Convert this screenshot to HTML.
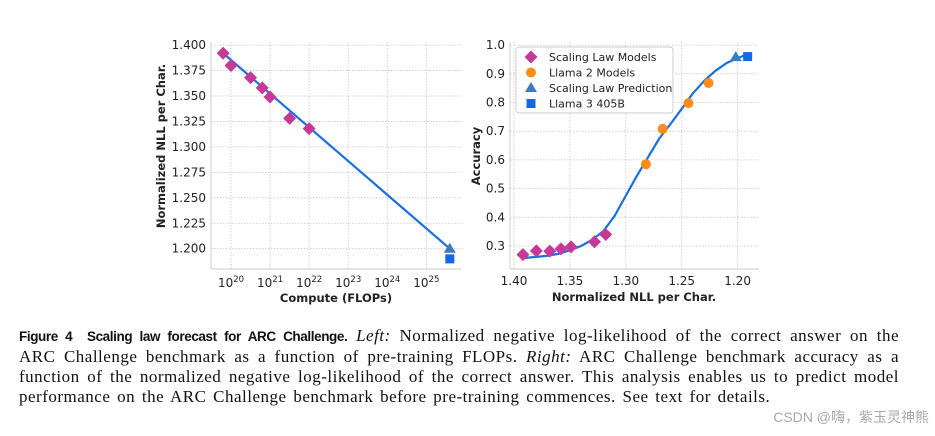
<!DOCTYPE html>
<html><head><meta charset="utf-8">
<style>
body{margin:0;background:#fff;width:935px;height:436px;overflow:hidden;position:relative}
svg text{font-family:"DejaVu Sans","Liberation Sans",sans-serif}
.cap{position:absolute;left:19px;width:880px;font-family:"Liberation Serif",serif;font-size:17px;line-height:20px;color:#111;white-space:nowrap}
.ln{display:block;text-align:justify;text-align-last:justify;letter-spacing:0.5px}
.last{text-align-last:left;word-spacing:2px}
.fig{font-family:"Liberation Sans",sans-serif;font-weight:bold;font-size:13.5px;letter-spacing:-0.4px}
.wm{position:absolute;right:6px;top:407px;font-family:"Liberation Sans","Noto Sans CJK SC",sans-serif;font-size:14px;color:#aaa}
</style></head><body>
<svg id="chart" width="935" height="320" style="position:absolute;left:0;top:0"></svg>
<div class="cap" style="top:326px">
<span class="ln"><span class="fig">Figure 4&nbsp; Scaling law forecast for ARC Challenge.</span> <i>Left:</i> Normalized negative log-likelihood of the correct answer on the</span>
<span class="ln">ARC Challenge benchmark as a function of pre-training FLOPs. <i>Right:</i> ARC Challenge benchmark accuracy as a</span>
<span class="ln">function of the normalized negative log-likelihood of the correct answer. This analysis enables us to predict model</span>
<span class="ln last">performance on the ARC Challenge benchmark before pre-training commences. See text for details.</span>
</div>
<div class="wm">CSDN @嗨，紫玉灵神熊</div>
<script>
// Left chart data
const leftLogFlops=[19.8,20,20.5,20.8,21,21.5,22];
const leftNLL=[1.392,1.380,1.368,1.358,1.349,1.328,1.318];
const fitLogFlops=[19.8,25.6];
const fitNLL=[1.392,1.200];
const predLogFlops=[25.6];const predNLL=[1.200];
const llama3LogFlops=[25.6];const llama3NLL=[1.190];
const leftYTicks=[1.200,1.225,1.250,1.275,1.300,1.325,1.350,1.375,1.400];
const leftXTicks=[20,21,22,23,24,25];
// Right chart data
const rightNLL=[1.392,1.380,1.368,1.358,1.349,1.328,1.318];
const rightAcc=[0.270,0.283,0.282,0.290,0.297,0.315,0.340];
const l2NLL=[1.282,1.267,1.244,1.226];
const l2Acc=[0.585,0.708,0.798,0.868];
const rpredNLL=[1.2016];const rpredAcc=[0.958];
const rl3NLL=[1.191];const rl3Acc=[0.960];
const curveNLL=[1.392,1.38,1.37,1.36,1.35,1.34,1.33,1.32,1.31,1.30,1.29,1.28,1.27,1.26,1.25,1.24,1.23,1.22,1.21,1.20,1.191];
const curveAcc=[0.258,0.262,0.266,0.273,0.285,0.300,0.322,0.352,0.405,0.475,0.545,0.610,0.675,0.725,0.778,0.832,0.875,0.910,0.937,0.955,0.968];
const rightXTicks=[1.40,1.35,1.30,1.25,1.20];
const rightYTicks=[0.3,0.4,0.5,0.6,0.7,0.8,0.9,1.0];

const NS='http://www.w3.org/2000/svg';
const svg=document.getElementById('chart');
function el(t,a,p){const e=document.createElementNS(NS,t);for(const k in a)e.setAttribute(k,a[k]);(p||svg).appendChild(e);return e;}
const LX=v=>231+(v-20)*39.07, LY=v=>248.7-(v-1.2)/0.025*25.45;
const RX=v=>514+(1.40-v)/0.05*55.9, RY=v=>246-(v-0.3)/0.1*28.7;
const PINK='#c43a96',ORANGE='#ff8c1a',TRI='#3b7bbf',SQ='#1667e6',LINE='#1a6fe0';
function diamond(x,y,n){const s=6.5;const e=el('polygon',{points:`${x},${y-s} ${x+s},${y} ${x},${y+s} ${x-s},${y}`,fill:PINK});}
function tri(x,y,n){const e=el('polygon',{points:`${x},${y-6} ${x+6},${y+4} ${x-6},${y+4}`,fill:TRI});}
function sq(x,y,n){const e=el('rect',{x:x-4.5,y:y-4.5,width:9,height:9,fill:SQ});}
function circ(x,y,n){const e=el('circle',{cx:x,cy:y,r:5,fill:ORANGE});}
function grid(x1,y1,x2,y2){el('line',{x1,y1,x2,y2,stroke:'#c8c8c8','stroke-width':0.8,'stroke-dasharray':'1.5,1.5'});}
function txt(x,y,s,o){const e=el('text',Object.assign({x,y,'font-size':12,fill:'#222'},o||{}));e.textContent=s;return e;}

// Left axes
const l={x0:211,x1:461,y0:42,y1:269};
leftYTicks.forEach(v=>{grid(l.x0,LY(v),l.x1,LY(v));const t=txt(l.x0-5,LY(v)+4,v.toFixed(3),{'text-anchor':'end'});});
leftXTicks.forEach(v=>{grid(LX(v),l.y0,LX(v),l.y1);const t=el('text',{x:LX(v),y:287,'font-size':12,fill:'#222','text-anchor':'middle'});t.innerHTML='10<tspan dy="-5" font-size="8.5">'+v+'</tspan>';});
el('line',{x1:l.x0,y1:l.y0,x2:l.x0,y2:l.y1,stroke:'#ccc','stroke-width':1});
el('line',{x1:l.x0,y1:l.y1,x2:l.x1,y2:l.y1,stroke:'#ccc','stroke-width':1});
let t1=txt(336,302,'Compute (FLOPs)',{'text-anchor':'middle','font-weight':'bold','font-size':11.5});
let t2=txt(0,0,'Normalized NLL per Char.',{'text-anchor':'middle','font-weight':'bold','font-size':11.5,transform:'translate(165,146) rotate(-90)'});
let fl=el('line',{x1:LX(fitLogFlops[0]),y1:LY(fitNLL[0]),x2:LX(fitLogFlops[1]),y2:LY(fitNLL[1]),stroke:LINE,'stroke-width':2.2});
leftLogFlops.forEach((v,i)=>diamond(LX(v),LY(leftNLL[i]),'left-scaling-law-point'));
tri(LX(predLogFlops[0]),LY(predNLL[0]),'left-prediction-point');
sq(LX(llama3LogFlops[0]),LY(llama3NLL[0]),'left-llama3-point');

// Right axes
const r={x0:510,x1:759,y0:42,y1:269};
rightYTicks.forEach(v=>{grid(r.x0,RY(v),r.x1,RY(v));const t=txt(r.x0-5,RY(v)+4,v.toFixed(1),{'text-anchor':'end'});});
rightXTicks.forEach(v=>{grid(RX(v),r.y0,RX(v),r.y1);const t=txt(RX(v),285,v.toFixed(2),{'text-anchor':'middle'});});
el('line',{x1:r.x0,y1:r.y0,x2:r.x0,y2:r.y1,stroke:'#ccc','stroke-width':1});
el('line',{x1:r.x0,y1:r.y1,x2:r.x1,y2:r.y1,stroke:'#ccc','stroke-width':1});
let t3=txt(634,301,'Normalized NLL per Char.',{'text-anchor':'middle','font-weight':'bold','font-size':11.5});
let t4=txt(0,0,'Accuracy',{'text-anchor':'middle','font-weight':'bold','font-size':11.5,transform:'translate(480,156) rotate(-90)'});
let cv=el('polyline',{points:curveNLL.map((v,i)=>RX(v)+','+RY(curveAcc[i])).join(' '),fill:'none',stroke:LINE,'stroke-width':2.2,'stroke-linejoin':'round'});
rightNLL.forEach((v,i)=>diamond(RX(v),RY(rightAcc[i]),'right-scaling-law-point'));
l2NLL.forEach((v,i)=>circ(RX(v),RY(l2Acc[i]),'right-llama2-point'));
tri(RX(rpredNLL[0]),RY(rpredAcc[0]),'right-prediction-point');
sq(RX(rl3NLL[0]),RY(rl3Acc[0]),'right-llama3-point');

// Legend
const lg=el('g',{});
el('rect',{x:516,y:47,width:157,height:66,rx:3,fill:'#fff','fill-opacity':0.9,stroke:'#ccc'},lg);
const items=[['Scaling Law Models',diamond],['Llama 2 Models',circ],['Scaling Law Prediction',tri],['Llama 3 405B',sq]];
items.forEach((it,i)=>{const y=57+i*15.5;it[1](531,y,'legend-marker');const t=el('text',{x:549,y:y+4,'font-size':11,fill:'#222'},lg);t.textContent=it[0];});
</script>
</body></html>
